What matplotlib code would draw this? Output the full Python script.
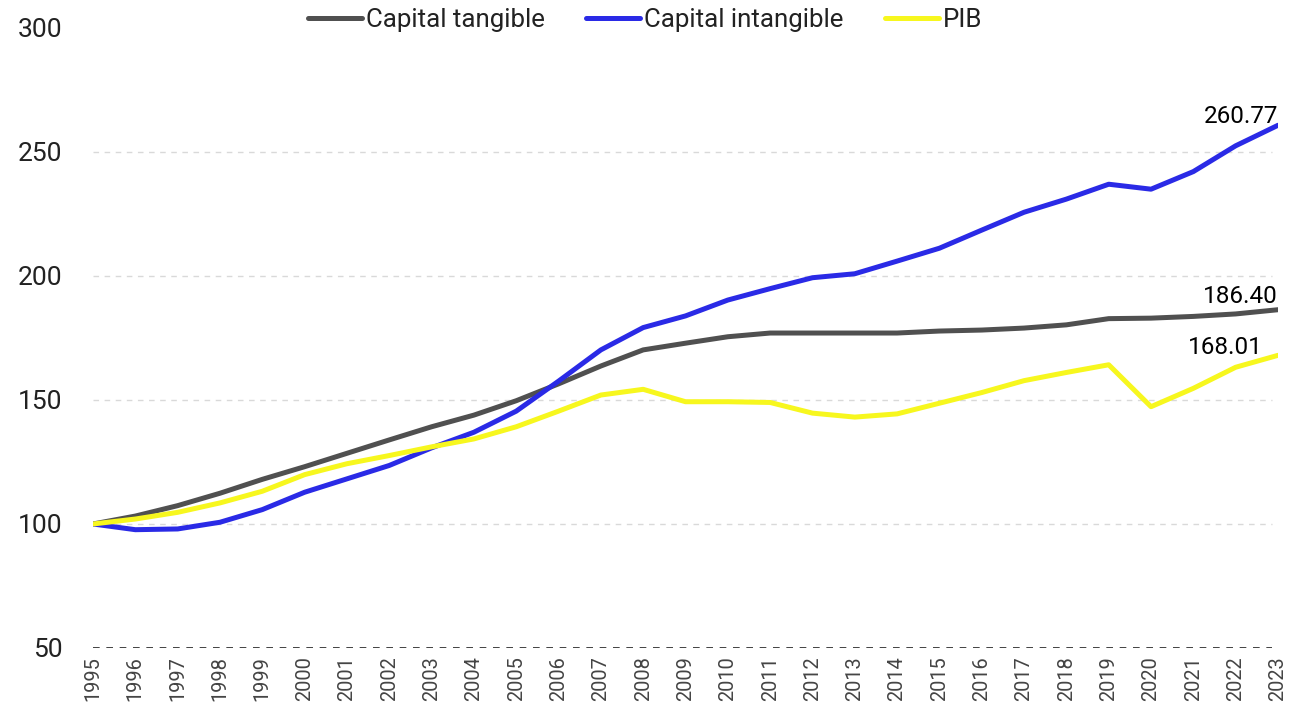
import matplotlib.pyplot as plt

plt.rcParams['font.family'] = ['Roboto', 'DejaVu Sans']

years = list(range(1995, 2024))

tangible = [100, 103.2, 107.4, 112.4, 118.0, 123.1, 128.5, 133.9, 139.2, 143.9,
            149.7, 156.5, 163.7, 170.2, 172.9, 175.5, 177.0, 177.0, 177.0, 177.0,
            177.8, 178.2, 179.0, 180.3, 182.8, 183.0, 183.7, 184.7, 186.40]
intangible = [100, 97.7, 98.0, 100.7, 105.8, 112.8, 118.2, 123.6, 130.7, 137.0,
              145.5, 157.6, 170.2, 179.2, 183.9, 190.3, 194.9, 199.3, 200.9, 206.0,
              211.2, 218.5, 225.7, 231.0, 237.0, 235.0, 242.1, 252.5, 260.77]
pib = [100, 102.0, 104.7, 108.5, 113.2, 119.9, 124.3, 127.6, 131.1, 134.3,
       139.2, 145.5, 152.0, 154.3, 149.3, 149.3, 149.0, 144.7, 143.1, 144.4,
       148.7, 153.0, 157.8, 161.1, 164.2, 147.3, 154.7, 163.2, 168.01]

fig = plt.figure(figsize=(13.14, 7.12), dpi=100)
ax = fig.add_axes([0.0708, 0.0899, 0.9018, 0.8708])

ax.plot(years, tangible, color='#505050', lw=3.6, label='Capital tangible', solid_capstyle='round')
ax.plot(years, intangible, color='#2A2AE6', lw=3.6, label='Capital intangible', solid_capstyle='round')
ax.plot(years, pib, color='#F7F71E', lw=3.6, label='PIB', solid_capstyle='round')

ax.set_xlim(1995, 2023)
ax.set_ylim(50, 300)
ax.set_yticks([50, 100, 150, 200, 250, 300])
ax.set_xticks(years)
ax.set_xticklabels([str(y) for y in years], rotation=90, fontsize=14.4, color='#444444')
ax.tick_params(axis='y', labelsize=19, pad=22, length=0, labelcolor='#222222')
ax.tick_params(axis='x', length=0, pad=6)

for s in ax.spines.values():
    s.set_visible(False)

for v in [100, 150, 200, 250]:
    ax.axhline(v, xmin=0, xmax=0.995, color='#d9d9d9', lw=1, ls=(0, (4, 4)), zorder=0)
ax.axhline(50, xmin=0, xmax=0.995, color='#222222', lw=1.2, ls=(0, (4, 4)), zorder=0)

ax.text(2023, intangible[-1] + 1, f'{intangible[-1]:.2f}', ha='right', va='baseline', fontsize=17.5, color='black')
ax.text(2023, tangible[-1] + 2.7, f'{tangible[-1]:.2f}', ha='right', va='baseline', fontsize=17.5, color='black')
ax.text(2022.65, pib[-1] + 0.5, f'{pib[-1]:.2f}', ha='right', va='baseline', fontsize=17.5, color='black')

fig.legend(loc='center', bbox_to_anchor=(0.491, 0.972), ncol=3, frameon=False,
           fontsize=18.6, handlelength=2.1, handletextpad=0.15, columnspacing=1.6,
           labelcolor='#222222')

fig.savefig('out.png', dpi=100)
